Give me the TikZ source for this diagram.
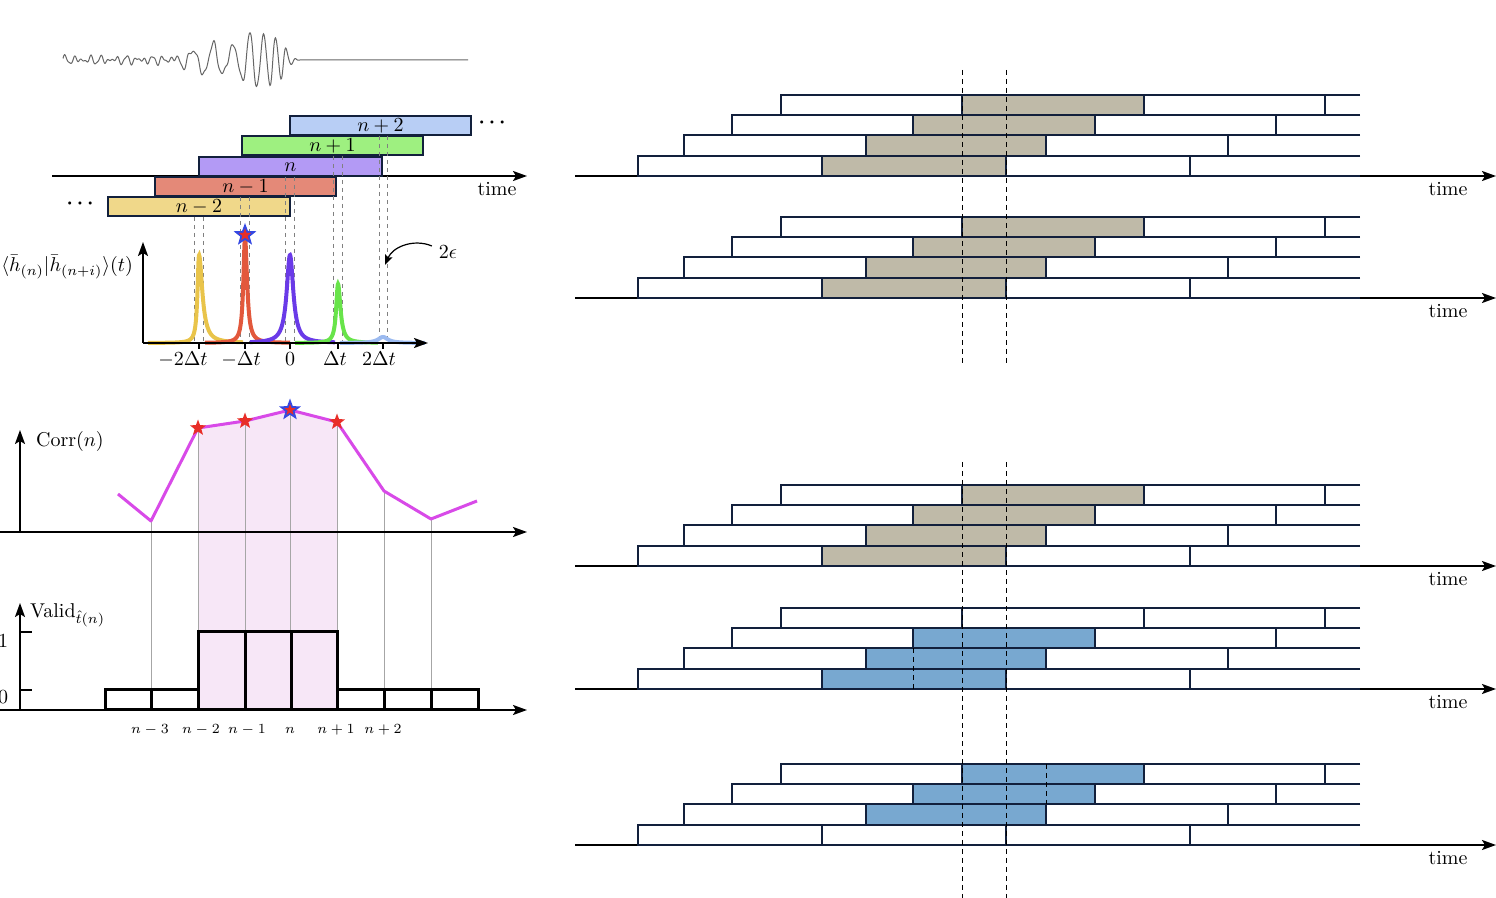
\documentclass[tikz,border=0pt]{standalone}
\usepackage{amsfonts, amssymb, amsmath}
\usepackage{tikz}
\usetikzlibrary{arrows.meta, shapes.geometric}
\usepackage{xcolor}

\definecolor{navy}{RGB}{18,32,60}
\definecolor{barYellow}{RGB}{240,216,138}
\definecolor{barRed}{RGB}{228,137,120}
\definecolor{barPurple}{RGB}{179,154,245}
\definecolor{barGreen}{RGB}{158,240,128}
\definecolor{barBlue}{RGB}{184,206,245}
\definecolor{pkYellow}{RGB}{233,196,74}
\definecolor{pkRed}{RGB}{226,88,60}
\definecolor{pkPurple}{RGB}{106,58,232}
\definecolor{pkGreen}{RGB}{104,228,74}
\definecolor{pkBlue}{RGB}{155,186,240}
\definecolor{corrLine}{RGB}{216,74,232}
\definecolor{pinkFill}{RGB}{247,231,247}
\definecolor{beige}{RGB}{191,186,168}
\definecolor{sky}{RGB}{120,168,208}
\definecolor{starBlue}{RGB}{52,72,226}
\definecolor{starRed}{RGB}{232,46,40}

\begin{document}
\begin{tikzpicture}[x=0.5pt, y=-0.5pt,
        >={Stealth[length=7pt, width=5pt, inset=1.5pt]},
        axis/.style={line width=1pt, ->},
        bar/.style={draw=navy, line width=1pt},
        seg/.style={draw=navy, line width=1pt},
        guide/.style={gray, line width=0.4pt, dash pattern=on 2pt off 2pt},
        cut/.style={black, line width=0.5pt, dash pattern=on 2.5pt off 2pt},
        peak/.style={line width=2pt},
        link/.style={gray!70, line width=0.4pt},
        validbox/.style={draw=black, line width=1.5pt},
        starmark/.style={star, star points=5, star point ratio=2.4, inner sep=0pt},
        declare function={
            lor(\t,\c,\h,\w)=\h*\w*\w/((\t-\c)^2+\w*\w);
            env(\t)=26*exp(-((\t-258)/30)^2)+14*exp(-((\t-205)/22)^2);
            taper(\t)=max(0,min(1,(300-\t)/15));
            chirp(\t)=18*(\t-213)+90+0.15*(max(\t-230,0))^2;
            noise(\t)=2.4*sin(41*(\t-63))+2*sin(29*(\t-63)+40)+1.3*sin(67*(\t-63)+10);
            wav(\t)=taper(\t)*(env(\t)*sin(chirp(\t))+noise(\t));
        }]
    \useasboundingbox (0,0) rectangle (1496,898);

    % signal
    \draw[gray!80!black, line width=0.5pt] plot[domain=63:300, samples=475] (\x, {60 - wav(\x)}) -- (468,60);

    % overlapping segments
    \draw[axis] (52,176) -- (527,176);
    \node (timeL) at (497,189) {time};
    \foreach \i/\lab/\a/\b/\t/\col in {1/n-2/108/290/197/barYellow, 2/n-1/155/336/177/barRed,
            3/n/199/382/157/barPurple, 4/n+1/242/423/136/barGreen, 5/n+2/290/471/116/barBlue} {
        \draw[bar, fill=\col] (\a,\t) rectangle (\b,\t+19.5);
        \node (bar\i) at ({(\a+\b)/2},\t+10) {$\lab$};
    }
    \node (dotsR) at (494,123) {$\boldsymbol{\cdots}$};
    \node (dotsL) at (82,204) {$\boldsymbol{\cdots}$};
    \foreach \p/\top in {194/217, 203/217, 240/197, 249/197, 285/177, 294/177, 333/156, 342/156, 379/136, 387/136}
        \draw[guide] (\p,\top) -- (\p,343);

    % cross-correlation peaks
    \foreach \col/\c/\h/\wl/\wr/\a/\b in {pkYellow/199/88/1.8/4/148/243, pkRed/245/106/2/2.5/205/290,
            pkPurple/290/88/4/4/250/335, pkGreen/338/59/2.2/3/295/378, pkBlue/383/6/6/6/340/425}
        \draw[peak, \col] plot[domain=\a:\b, samples=300] (\x, {343 - lor(\x,\c,\h,ifthenelse(\x<\c,\wl,\wr))});
    \draw[axis] (143,343) -- (143,242);
    \draw[axis] (143,343) -- (428,343);
    \foreach \p in {199, 245, 290, 338, 383}
        \draw[line width=0.6pt] (\p,343) -- (\p,349);
    \node[anchor=base east] (ylab) at (140,272) {$\langle\bar{h}_{(n)}|\bar{h}_{(n+i)}\rangle(t)$};
    \foreach \p/\lab/\k in {183/-2\Delta t/1, 241/-\Delta t/2, 290/0/3, 335/\Delta t/4, 379/2\Delta t/5}
        \node[anchor=base] (tick\k) at (\p,366) {$\lab$};
    \node[starmark, fill=starBlue, minimum size=12pt] (topstar) at (245,235) {};
    \node[starmark, fill=starRed, minimum size=6.5pt] (topstarin) at (245,235) {};
    \node (eps) at (448,252) {$2\epsilon$};
    \coordinate (epstip) at (385,265);
    \draw[line width=0.6pt, -{Stealth[length=5pt, width=4pt, inset=1pt]}] ([yshift=3pt]eps.west) to[bend right=45] (epstip);

    % correlation and validity
    \coordinate (c1) at (118,494);
    \coordinate (c2) at (151,521);
    \coordinate (c3) at (198,428);
    \coordinate (c4) at (245,421);
    \coordinate (c5) at (290,410);
    \coordinate (c6) at (337,422);
    \coordinate (c7) at (384,491);
    \coordinate (c8) at (431,519);
    \coordinate (c9) at (477,501);
    \fill[pinkFill] (c3) -- (c4) -- (c5) -- (c6) -- (337,710) -- (198,710) -- cycle;
    \foreach \p/\b in {c2/690, c3/632, c4/632, c5/632, c6/632, c7/690, c8/690}
        \draw[link] (\p) -- (\p |- 0,\b);
    \draw[axis] (20,532) -- (20,430);
    \draw[axis] (0,532) -- (527,532);
    \node[anchor=base west] (corrlab) at (29,447) {Corr$(n)$};
    \draw[corrLine, line width=1.5pt, line join=round] (c1) -- (c2) -- (c3) -- (c4) -- (c5) -- (c6) -- (c7) -- (c8) -- (c9);
    \foreach \p in {c3, c4, c6}
        \node[starmark, fill=starRed, minimum size=8.5pt] (s\p) at (\p) {};
    \node[starmark, fill=starBlue, minimum size=11.5pt] (bigstar) at (c5) {};
    \node[starmark, fill=starRed, minimum size=6pt] (bigstarin) at (c5) {};

    \foreach \a/\b/\top in {105/151/690, 151/198/690, 198/245/632, 245/291/632, 291/337/632, 337/384/690, 384/431/690, 431/478/690}
        \draw[validbox] (\a,710) rectangle (\b,\top);
    \draw[axis] (20,710) -- (20,603);
    \draw[axis] (0,710) -- (527,710);
    \draw[line width=1pt] (20,632) -- (32,632) (20,690) -- (32,690);
    \node (one) at (3,641) {$1$};
    \node (zero) at (3,697) {$0$};
    \node[anchor=base west] (validlab) at (23,618) {Valid$_{\hat{t}(n)}$};
    \foreach \p/\lab/\k in {150/n-3/1, 201/n-2/2, 247/n-1/3, 290/n/4, 336/n+1/5, 383/n+2/6}
        \node[font=\scriptsize] (nl\k) at (\p,730) {$\lab$};

    % windows on the right
    \foreach \A/\ca/\cb/\cc/\cd in {176/beige/beige/beige/beige, 298/beige/beige/beige/beige,
            566/beige/beige/beige/beige, 689/sky/sky/sky/white, 845/white/sky/sky/sky} {
        \fill[\ca] (822,\A-20) rectangle (1006,\A);
        \fill[\cb] (866,\A-41) rectangle (1046,\A-20);
        \fill[\cc] (913,\A-61) rectangle (1095,\A-41);
        \fill[\cd] (962,\A-81) rectangle (1144,\A-61);
        \draw[axis] (575,\A) -- (1496,\A);
        \node (time\A) at (1448,\A+13) {time};
        \foreach \t/\b/\xa/\xb/\xc/\xd in {20/0/638/822/1006/1190, 41/20/684/866/1046/1228,
                61/41/732/913/1095/1276, 81/61/781/962/1144/1325} {
            \draw[seg] (1360,\A-\t) -- (\xa,\A-\t) -- (\xa,\A-\b) -- (1360,\A-\b);
            \draw[seg] (\xb,\A-\t) -- (\xb,\A-\b) (\xc,\A-\t) -- (\xc,\A-\b) (\xd,\A-\t) -- (\xd,\A-\b);
        }
    }
    \draw[cut] (962,70) -- (962,366) (1006,70) -- (1006,366);
    \draw[cut] (962,462) -- (962,898) (1006,462) -- (1006,898);
    \draw[cut] (913,648) -- (913,689);
    \draw[cut] (1046,764) -- (1046,804);
\end{tikzpicture}
\end{document}
